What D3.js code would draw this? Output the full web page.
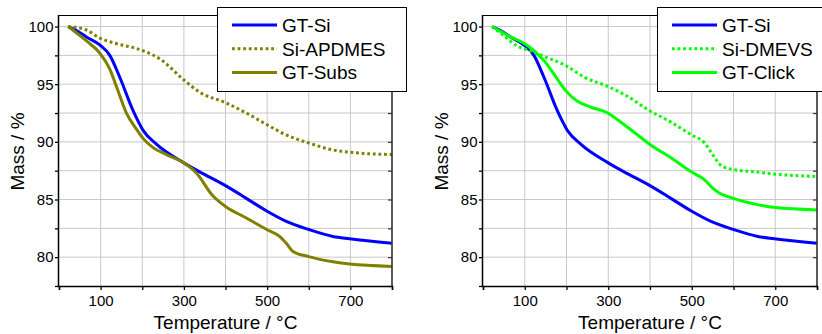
<!DOCTYPE html>
<html>
<head>
<meta charset="utf-8">
<script src="https://cdn.jsdelivr.net/npm/d3@7"></script>
<style>
  body { margin: 0; background: #fff; }
  svg { display: block; font-family: "Liberation Sans", Arial, sans-serif; }
</style>
</head>
<body>
<svg id="chart" width="822" height="334"></svg>
<script>
// temperature (°C) / mass (%)
const gtSiT    = [22, 40, 66, 98, 122, 146, 178, 202, 234, 299, 338, 400, 450, 499, 546, 600, 658, 698, 800];
const gtSiMass = [100, 99.7, 99.1, 98.4, 97.5, 95.6, 92.7, 91.0, 89.8, 88.2, 87.4, 86.2, 85.1, 84.0, 83.1, 82.4, 81.8, 81.6, 81.2];

const apdmesT    = [22, 66, 98, 130, 202, 242, 299, 338, 400, 450, 499, 546, 600, 658, 698, 800];
const apdmesMass = [100, 99.7, 99.0, 98.6, 97.9, 97.2, 95.4, 94.3, 93.4, 92.5, 91.5, 90.6, 89.9, 89.3, 89.1, 88.9];

const subsT    = [22, 66, 98, 122, 138, 162, 186, 202, 226, 258, 299, 330, 370, 400, 450, 499, 530, 546, 562, 600, 658, 698, 800];
const subsMass = [100, 98.75, 97.7, 96.3, 94.8, 92.5, 91.1, 90.3, 89.5, 88.9, 88.2, 87.3, 85.3, 84.4, 83.4, 82.4, 81.8, 81.2, 80.5, 80.05, 79.6, 79.4, 79.2];

const dmevsT    = [22, 50, 82, 114, 147, 199, 243, 299, 339, 399, 451, 499, 531, 548, 572, 600, 652, 700, 800];
const dmevsMass = [100, 99.2, 98.3, 97.9, 97.4, 96.6, 95.6, 94.8, 94.1, 92.7, 91.7, 90.6, 89.9, 89.0, 87.9, 87.6, 87.4, 87.2, 87.0];

const clickT    = [22, 66, 100, 122, 147, 179, 199, 227, 259, 299, 323, 363, 399, 451, 499, 531, 547, 564, 600, 652, 700, 800];
const clickMass = [100, 99.1, 98.5, 97.9, 97.0, 95.4, 94.4, 93.5, 93.0, 92.5, 91.9, 90.8, 89.8, 88.6, 87.4, 86.7, 86.1, 85.6, 85.1, 84.6, 84.3, 84.1];

const xTicks = [0, 100, 200, 300, 400, 500, 600, 700, 800];
const xLabels = [100, 300, 500, 700];
const yTicks = [77.5, 80, 82.5, 85, 87.5, 90, 92.5, 95, 97.5, 100];
const yLabels = [80, 85, 90, 95, 100];

const blue = '#0000ff', olive = '#808000', green = '#00ff00';

const svg = d3.select('#chart');
const plotTop = 15, plotBottom = 286;

const panels = [
  {
    left: 59, right: 392,
    legend: { x: 217, y: 7, w: 189, h: 84 },
    series: [
      { name: 'GT-Si', t: gtSiT, m: gtSiMass, color: blue, dotted: false },
      { name: 'Si-APDMES', t: apdmesT, m: apdmesMass, color: olive, dotted: true },
      { name: 'GT-Subs', t: subsT, m: subsMass, color: olive, dotted: false }
    ]
  },
  {
    left: 483, right: 817,
    legend: { x: 657, y: 7, w: 180, h: 84 },
    series: [
      { name: 'GT-Si', t: gtSiT, m: gtSiMass, color: blue, dotted: false },
      { name: 'Si-DMEVS', t: dmevsT, m: dmevsMass, color: green, dotted: true },
      { name: 'GT-Click', t: clickT, m: clickMass, color: green, dotted: false }
    ]
  }
];

panels.forEach((p, pi) => {
  const w = p.right - p.left, h = plotBottom - plotTop;
  const x = d3.scaleLinear().domain([0, 800]).range([0, w]);
  const y = d3.scaleLinear().domain([77.5, 101]).range([h, 0]);
  const g = svg.append('g').attr('transform', `translate(${p.left},${plotTop})`);

  // grid
  g.append('g').selectAll('line').data(xTicks.slice(1, -1)).join('line')
    .attr('x1', d => x(d)).attr('x2', d => x(d)).attr('y1', 0).attr('y2', h)
    .attr('stroke', '#c8c8c8').attr('stroke-width', 1);
  g.append('g').selectAll('line').data(yTicks.slice(1)).join('line')
    .attr('x1', 0).attr('x2', w).attr('y1', d => y(d)).attr('y2', d => y(d))
    .attr('stroke', '#c8c8c8').attr('stroke-width', 1);

  // curves
  const clipId = 'clip' + pi;
  g.append('clipPath').attr('id', clipId).append('rect').attr('width', w).attr('height', h);
  const line = d3.line().curve(d3.curveMonotoneX);
  p.series.forEach(s => {
    const pts = s.t.map((t, i) => [x(t), y(s.m[i])]);
    g.append('path').attr('clip-path', `url(#${clipId})`)
      .attr('d', line(pts))
      .attr('fill', 'none')
      .attr('stroke', s.color)
      .attr('stroke-width', 3)
      .attr('stroke-dasharray', s.dotted ? '2.8,2.8' : null);
  });

  // frame: top + right
  g.append('line').attr('x1', 0).attr('x2', w).attr('y1', 0.5).attr('y2', 0.5)
    .attr('stroke', '#000').attr('stroke-width', 1);
  g.append('line').attr('x1', w).attr('x2', w).attr('y1', 0).attr('y2', h)
    .attr('stroke', '#333').attr('stroke-width', 1.6);
  g.append('g').attr('transform', `translate(${w},0)`)
    .call(d3.axisRight(y).tickValues(yTicks).tickSize(-4).tickFormat(''))
    .call(a => a.select('.domain').remove())
    .call(a => a.selectAll('line').attr('stroke', '#333').attr('stroke-width', 1.2));

  // axes
  const xAxis = g.append('g').attr('transform', `translate(0,${h})`)
    .call(d3.axisBottom(x).tickValues(xTicks).tickSizeOuter(0).tickSize(4).tickPadding(5)
      .tickFormat(d => xLabels.includes(d) ? d : ''));
  const yAxis = g.append('g')
    .call(d3.axisLeft(y).tickValues(yTicks).tickSizeOuter(0).tickSize(4).tickPadding(1.5)
      .tickFormat(d => yLabels.includes(d) ? d : ''));
  [xAxis, yAxis].forEach(a => {
    a.select('.domain').attr('stroke-width', 1.5);
    a.selectAll('.tick line').attr('stroke-width', 1.3);
    a.selectAll('text').attr('font-size', 15).attr('font-family', 'Liberation Sans, Arial, sans-serif').attr('fill', '#000');
  });
  yAxis.select('.domain').attr('d', `M-0.5,0V${h + 0.5}`);

  svg.append('text')
    .attr('x', p.left + w / 2).attr('y', 329)
    .attr('text-anchor', 'middle').attr('font-size', 19)
    .text('Temperature / °C');
  svg.append('text')
    .attr('transform', `translate(${p.left - 35},${plotTop + h / 2 + 1}) rotate(-90)`)
    .attr('text-anchor', 'middle').attr('font-size', 19)
    .text('Mass / %');

  // legend
  const L = p.legend;
  const lg = svg.append('g').attr('transform', `translate(${L.x},${L.y})`);
  lg.append('rect').attr('x', 0.5).attr('y', 0.5).attr('width', L.w).attr('height', L.h)
    .attr('fill', '#fff').attr('stroke', '#000').attr('stroke-width', 1);
  p.series.forEach((s, i) => {
    const ly = 18 + i * 23.7;
    lg.append('line').attr('x1', 15).attr('x2', 60).attr('y1', ly).attr('y2', ly)
      .attr('stroke', s.color).attr('stroke-width', 3)
      .attr('stroke-dasharray', s.dotted ? '2.8,2.8' : null);
    lg.append('text').attr('x', 65).attr('y', ly + 6.8).attr('font-size', 19).text(s.name);
  });
});
</script>
</body>
</html>
